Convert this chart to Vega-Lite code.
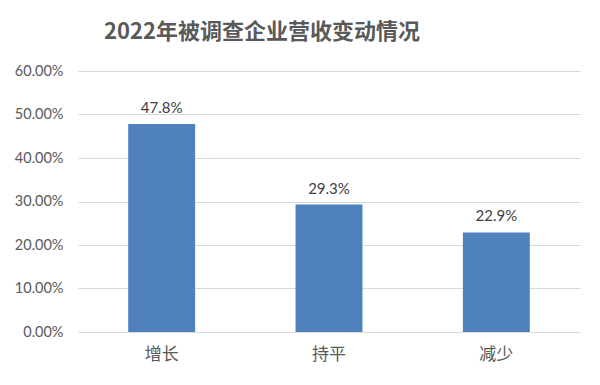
{
  "$schema": "https://vega.github.io/schema/vega-lite/v6.json",
  "width": 502,
  "height": 261,
  "autosize": {"type": "none"},
  "padding": {"left": 78, "top": 71, "right": 20, "bottom": 53},
  "background": "white",
  "title": {
    "text": "2022年被调查企业营收变动情况",
    "font": "Noto Sans CJK SC",
    "fontSize": 22,
    "fontWeight": "bold",
    "color": "#595959",
    "anchor": "middle",
    "dx": -67,
    "offset": 19
  },
  "data": {
    "values": [
      {"category": "增长", "value": 0.478},
      {"category": "持平", "value": 0.293},
      {"category": "减少", "value": 0.229}
    ]
  },
  "encoding": {
    "x": {
      "field": "category",
      "type": "nominal",
      "sort": null,
      "scale": {"paddingInner": 0.6, "paddingOuter": 0.3},
      "axis": {
        "title": null,
        "labelAngle": 0,
        "labelFont": "Noto Sans CJK SC",
        "labelFontSize": 17,
        "labelColor": "#595959",
        "labelPadding": 14,
        "ticks": false,
        "domainColor": "#D9D9D9",
        "grid": false
      }
    },
    "y": {
      "field": "value",
      "type": "quantitative",
      "scale": {"domain": [0, 0.6]},
      "axis": {
        "title": null,
        "format": ".2%",
        "values": [0, 0.1, 0.2, 0.3, 0.4, 0.5, 0.6],
        "labelOverlap": false,
        "labelFont": "Lato",
        "labelFontSize": 14.5,
        "labelColor": "#595959",
        "labelPadding": 15,
        "ticks": false,
        "domain": false,
        "gridColor": "#D9D9D9"
      }
    }
  },
  "layer": [
    {"mark": {"type": "bar", "color": "#4F81BD"}},
    {
      "mark": {"type": "text", "baseline": "bottom", "dy": -8, "font": "Lato", "fontSize": 15, "color": "#404040"},
      "encoding": {"text": {"field": "value", "type": "quantitative", "format": ".1%"}}
    }
  ],
  "config": {"view": {"stroke": null}}
}
